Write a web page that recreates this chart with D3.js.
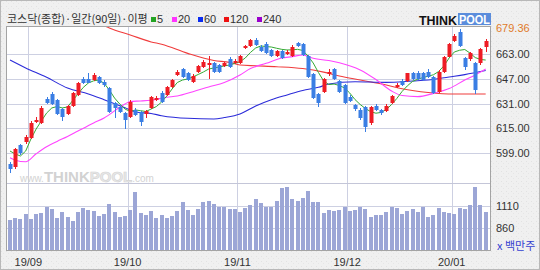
<!DOCTYPE html>
<html>
<head>
<meta charset="utf-8">
<script src="https://cdn.jsdelivr.net/npm/d3@7"></script>
<style>
  body { margin: 0; background: #fff; }
  svg text { font-family: "Liberation Sans", Arial, sans-serif; }
  .kr { font-family: "Noto Sans CJK KR", "Noto Sans", sans-serif; }
</style>
</head>
<body>
<div id="chart"></div>
<script>
// KOSDAQ composite, daily candles (index 0 = 2019-08-27 ... 91 = 2020-01-10)
var openP  = [592.0,590.1,604.3,606.4,608.8,619.1,618.5,634.0,637.2,633.3,
              627.5,624.3,629.5,636.5,646.9,646.9,646.2,648.2,645.1,641.1,
              631.4,629.0,624.9,622.4,626.9,625.6,624.3,628.2,633.3,637.8,
              636.5,641.7,649.5,653.3,650.7,644.9,651.4,654.6,656.6,657.2,
              655.9,655.3,659.8,657.0,657.2,666.9,668.2,672.0,667.7,669.5,
              665.6,661.7,664.9,663.4,661.7,669.9,669.5,661.7,650.1,637.2,
              638.5,650.1,653.3,645.8,643.0,635.5,630.1,626.9,628.8,618.3,
              629.5,626.9,626.4,631.2,641.5,645.6,645.8,650.5,650.5,650.5,
              651.6,648.0,638.7,651.6,661.3,671.6,677.4,660.2,659.6,657.0,
              657.0,667.7];
var highP  = [593.5,602.5,605.1,611.0,619.5,622.5,629.5,635.5,638.5,634.0,
              628.0,630.0,638.5,645.0,648.0,651.0,651.0,649.0,646.0,642.0,
              632.0,630.0,625.5,633.0,628.0,626.5,627.0,636.0,636.0,639.0,
              642.5,647.0,652.5,654.0,651.5,650.0,656.0,659.0,661.7,658.0,
              656.5,658.0,661.0,659.5,662.5,669.0,673.0,673.3,668.5,670.5,
              666.0,665.5,665.5,665.5,668.5,671.0,670.0,662.5,651.0,638.0,
              647.5,653.0,654.0,646.5,643.5,636.5,631.0,628.0,629.5,629.5,
              631.0,627.5,630.5,636.5,644.0,647.0,651.0,651.5,652.0,651.5,
              653.5,649.0,652.5,662.0,670.0,676.0,679.36,661.0,664.5,658.0,
              667.0,672.5];
var lowP   = [586.4,589.0,598.0,605.0,608.0,618.5,618.0,631.0,630.0,623.5,
              619.7,623.5,629.0,636.0,643.5,644.0,645.5,643.5,642.0,625.0,
              622.0,625.0,614.6,621.5,623.0,616.5,621.5,627.5,632.5,631.5,
              636.0,641.0,649.0,647.5,645.5,644.0,650.5,654.0,646.9,650.5,
              650.5,654.5,654.0,656.5,656.5,666.0,667.5,668.0,664.5,663.0,
              661.0,661.0,659.5,662.5,661.0,667.5,661.5,647.5,633.8,628.8,
              638.0,649.0,646.0,638.0,631.0,632.0,626.5,620.5,612.9,617.5,
              626.0,623.5,625.5,630.5,641.0,642.5,645.0,646.0,646.0,645.5,
              647.5,637.0,638.0,651.0,660.8,670.5,667.5,652.7,658.5,637.2,
              656.0,664.5];
var closeP = [588.8,601.7,599.1,609.6,618.5,620.4,628.4,631.6,630.7,624.3,
              622.4,629.5,637.8,644.3,644.3,644.3,649.5,644.3,643.0,625.6,
              628.2,625.8,620.4,632.0,623.6,619.1,626.2,635.3,634.6,632.0,
              641.7,646.2,651.4,648.2,646.2,648.8,655.3,657.8,657.4,651.4,
              651.4,657.2,654.6,658.7,661.7,668.2,672.0,668.8,665.1,663.6,
              661.7,664.9,660.4,664.5,667.7,668.2,662.4,648.2,634.6,631.4,
              646.9,651.6,646.9,638.7,631.6,632.9,627.3,621.5,616.1,628.8,
              626.9,624.7,629.5,635.9,643.0,643.0,650.5,646.7,646.7,646.2,
              648.4,637.6,651.6,661.3,669.5,674.6,668.2,654.8,663.5,639.8,
              666.0,671.6];
// volume, million shares
var volume = [951,977,966,1019,966,1019,1030,1102,1076,977,
              1045,988,939,1038,1087,1064,1050,1000,1019,1133,
              1045,988,1000,1064,1265,1027,1011,1053,977,1008,
              970,996,1053,1155,1064,1011,1076,1155,1167,1133,
              1102,1102,1076,1076,1038,1087,1125,1186,1141,1102,
              1095,1170,1311,1322,1186,1170,1204,1284,1155,1155,
              1034,1064,1056,1064,1102,1053,1064,1102,1076,988,
              1011,1011,1038,1102,1087,1019,1056,1076,1038,1102,
              988,1011,1087,1038,1027,1019,1087,1076,1121,1329,
              1121,1045];
// moving averages
var ma5 = [600.4,598.5,597.2,600.4,608.2,614.6,619.8,624.9,628.2,629.1,
           628.2,628.8,633.0,637.2,641.4,644.3,645.7,646.2,644.1,639.8,
           634.6,630.7,627.5,625.9,626.9,626.4,625.9,627.5,629.1,632.0,
           635.9,640.4,644.6,646.2,646.9,648.2,649.8,651.4,653.3,654.0,
           654.6,655.3,655.9,656.9,658.0,660.4,664.0,666.9,668.2,667.8,
           667.5,666.7,666.0,665.6,665.7,666.0,665.3,661.7,657.2,651.1,
           645.6,643.3,643.6,642.7,641.1,637.8,633.6,630.4,627.8,625.8,
           624.8,625.3,627.2,630.4,634.3,638.8,642.4,645.3,646.7,647.8,
           648.7,649.6,651.7,655.3,660.4,664.3,665.4,665.9,663.6,660.7,
           659.5,659.1];
var ma20 = [[0,596.0],[1,594.5],[3,593.5],[5,598.6],[7,603.2],[9,606.6],[11,609.8],
            [13,613.3],[16,618.5],[18,621.7],[21,628.6],[22,630.7],[23,632.4],
            [25,632.7],[27,633.2],[30,635.1],[32,635.9],[35,638.7],[38,641.7],
            [41,644.6],[44,649.5],[46,653.6],[49,657.0],[52,660.4],[54,661.3],
            [56,662.4],[58,660.2],[61,658.8],[63,657.4],[67,652.7],[70,646.5],
            [73,639.1],[75,636.2],[78,635.5],[81,637.6],[84,640.7],[87,646.2],
            [89,649.5],[91,653.3]];
var ma60 = [[0,659.1],[3,654.0],[7,648.0],[11,641.0],[15,637.2],[18,633.5],
            [22,628.3],[24,625.6],[27,624.6],[29,623.2],[34,621.5],[39,621.1],
            [41,622.0],[44,624.3],[47,629.5],[50,633.5],[53,636.6],[56,639.5],
            [59,641.5],[61,643.6],[66,645.1],[72,644.7],[77,645.6],[80,646.2],
            [84,648.2],[87,649.7],[91,652.3]];
var ma120 = [[18,681.3],[19,679.8],[23,675.3],[27,670.8],[29,669.3],[34,663.4],
             [39,658.8],[42,657.6],[44,655.9],[47,655.4],[51,654.8],[56,653.6],
             [60,651.3],[63,648.8],[67,646.2],[72,643.0],[75,640.6],[80,638.2],
             [85,637.2],[91,637.2]];

var monthStart = [4, 23, 44, 65, 85];
var monthLabels = ["19/09", "19/10", "19/11", "19/12", "20/01"];
var priceTicks = [599, 615, 631, 647, 663];
var priceMax = 679.36;
var volTicks = [860, 1110];

var legendNames = ["5", "20", "60", "120", "240"];
var legendColors = ["#22a322", "#ff33ff", "#0a2cf0", "#ee1111", "#9900cc"];

// layout
var svgWidth = 540, svgHeight = 270;
var plot = {left: 7, right: 490, top: 27, split: 183, bottom: 250};
var red = "#ee1c24", blue = "#3a7ee4";

var svg = d3.select("#chart").append("svg")
  .attr("width", svgWidth)
  .attr("height", svgHeight);

// speckled grey background
var defs = svg.append("defs");
var pat = defs.append("pattern").attr("id", "speck")
  .attr("width", 5).attr("height", 5).attr("patternUnits", "userSpaceOnUse");
pat.append("rect").attr("width", 5).attr("height", 5).attr("fill", "#f0f0f0");
pat.append("rect").attr("x", 1).attr("y", 1).attr("width", 1).attr("height", 1).attr("fill", "#e2e2e2");
pat.append("rect").attr("x", 3).attr("y", 3).attr("width", 1).attr("height", 1).attr("fill", "#e6e6e6");

defs.append("clipPath").attr("id", "priceClip").append("rect")
  .attr("x", plot.left).attr("y", plot.top)
  .attr("width", plot.right - plot.left).attr("height", plot.split - plot.top);

svg.append("rect").attr("width", svgWidth).attr("height", svgHeight).attr("fill", "url(#speck)");
svg.append("rect").attr("x", 0.5).attr("y", 0.5).attr("width", svgWidth - 1).attr("height", svgHeight - 1)
  .attr("fill", "none").attr("stroke", "#b8b8b8");
svg.append("rect").attr("x", plot.left).attr("y", plot.top)
  .attr("width", plot.right - plot.left).attr("height", plot.bottom - plot.top)
  .attr("fill", "#fff");

// scales
var n = closeP.length;
var x = d3.scaleBand().domain(d3.range(n)).range([7.4, 488.3]);
var cx = function(i) { return Math.round(x(i) + x.bandwidth() / 2); };
var yP = d3.scaleLinear().domain([579.77, 680.42]).range([plot.split, plot.top]);
var yV = d3.scaleLinear().domain([610, 1371]).range([plot.bottom, plot.split]);

var grid = "#cdd0e2";

// gridlines
svg.append("g").selectAll("line").data(priceTicks).enter().append("line")
  .attr("x1", plot.left).attr("x2", plot.right)
  .attr("y1", d => Math.round(yP(d)) + 0.5).attr("y2", d => Math.round(yP(d)) + 0.5)
  .attr("stroke", grid);
svg.append("g").selectAll("line").data(volTicks).enter().append("line")
  .attr("x1", plot.left).attr("x2", plot.right)
  .attr("y1", d => Math.round(yV(d)) + 0.5).attr("y2", d => Math.round(yV(d)) + 0.5)
  .attr("stroke", grid);
svg.append("g").selectAll("line").data(monthStart).enter().append("line")
  .attr("x1", d => Math.round(x(d)) + 0.5).attr("x2", d => Math.round(x(d)) + 0.5)
  .attr("y1", plot.top).attr("y2", plot.bottom)
  .attr("stroke", grid);

// watermark
var wm = svg.append("text").attr("x", 20).attr("y", 182).attr("fill", "#d2d2d2");
wm.append("tspan").attr("font-size", 10).text("www.");
wm.append("tspan").attr("font-size", 15).attr("font-weight", "bold").text("THINK");
wm.append("tspan").attr("font-size", 15).attr("font-weight", "bold").attr("fill", "#e8e8e8")
  .attr("stroke", "#d4d4d4").attr("stroke-width", 0.6).text("POOL");
wm.append("tspan").attr("font-size", 10).text(".com");

// volume bars
svg.append("g").selectAll("rect").data(volume).enter().append("rect")
  .attr("x", (d, i) => cx(i) - 2)
  .attr("width", 4)
  .attr("y", d => Math.round(yV(d)))
  .attr("height", d => plot.bottom - Math.round(yV(d)))
  .attr("fill", "#9ca6d6");

// moving averages
var chart = svg.append("g").attr("clip-path", "url(#priceClip)");
var lineIdx = d3.line().x(d => x(d[0]) + x.bandwidth() / 2).y(d => yP(d[1])).curve(d3.curveMonotoneX);

chart.append("path").datum(ma120).attr("d", lineIdx)
  .attr("fill", "none").attr("stroke", "#f03c3c").attr("stroke-width", 1.1);
chart.append("path").datum(ma60).attr("d", lineIdx)
  .attr("fill", "none").attr("stroke", "#2b2bd9").attr("stroke-width", 1.1);
chart.append("path").datum(ma20).attr("d", lineIdx)
  .attr("fill", "none").attr("stroke", "#ff44ff").attr("stroke-width", 1.1);
chart.append("path").datum(ma5.map((v, i) => [i, v]))
  .attr("d", d3.line().x(d => x(d[0]) + x.bandwidth() / 2).y(d => yP(d[1])))
  .attr("fill", "none").attr("stroke", "#33aa33").attr("stroke-width", 1);

// candles
var candles = chart.selectAll(".candle").data(d3.range(n)).enter().append("g");
candles.append("line")
  .attr("x1", i => cx(i) + 0.5).attr("x2", i => cx(i) + 0.5)
  .attr("y1", i => Math.round(yP(highP[i]))).attr("y2", i => Math.round(yP(lowP[i])))
  .attr("stroke", i => closeP[i] >= openP[i] ? red : blue);
candles.append("rect")
  .attr("x", i => cx(i) - 1.5)
  .attr("width", 4)
  .attr("y", i => Math.round(yP(Math.max(openP[i], closeP[i]))))
  .attr("height", i => Math.max(2, Math.round(yP(Math.min(openP[i], closeP[i]))) - Math.round(yP(Math.max(openP[i], closeP[i])))))
  .attr("fill", i => closeP[i] >= openP[i] ? red : blue);

// frame
svg.append("rect").attr("x", plot.left - 0.5).attr("y", plot.top - 0.5)
  .attr("width", plot.right - plot.left + 1).attr("height", plot.bottom - plot.top + 1)
  .attr("fill", "none").attr("stroke", "#a4a4a4");
svg.append("line").attr("x1", plot.left).attr("x2", plot.right)
  .attr("y1", plot.split + 0.5).attr("y2", plot.split + 0.5).attr("stroke", "#c4c6d8");

// axes
var priceAxis = d3.axisRight(yP).tickValues(priceTicks).tickSize(0).tickPadding(6)
  .tickFormat(d3.format(".2f"));
var pa = svg.append("g").attr("transform", `translate(${plot.right},0)`).call(priceAxis);
pa.select(".domain").remove();
pa.selectAll("text").attr("font-size", 11).attr("fill", "#333").attr("font-family", "Liberation Sans");

svg.append("text").attr("x", plot.right + 6).attr("y", yP(priceMax)).attr("dy", "0.32em")
  .attr("font-size", 11).attr("fill", "#e07a2a").text(d3.format(".2f")(priceMax));

var volAxis = d3.axisRight(yV).tickValues(volTicks).tickSize(0).tickPadding(6)
  .tickFormat(d3.format("d"));
var va = svg.append("g").attr("transform", `translate(${plot.right},0)`).call(volAxis);
va.select(".domain").remove();
va.selectAll("text").attr("font-size", 11).attr("fill", "#333").attr("font-family", "Liberation Sans");

svg.append("text").attr("class", "kr").attr("x", plot.right + 7).attr("y", 250)
  .attr("font-size", 11).attr("fill", "#3340d0").text("x 백만주");

var dateAxis = d3.axisBottom(x).tickValues(monthStart).tickSize(0).tickPadding(8)
  .tickFormat(d => monthLabels[monthStart.indexOf(d)]);
var da = svg.append("g").attr("transform", `translate(${-x.bandwidth() / 2},${plot.bottom})`).call(dateAxis);
da.select(".domain").remove();
da.selectAll("text").attr("font-size", 11).attr("fill", "#333").attr("font-family", "Liberation Sans");

// title + legend
svg.append("text").attr("class", "kr").attr("x", 7).attr("y", 23)
  .attr("font-size", 11).attr("fill", "#333").text("코스닥(종합)·일간(90일)·이평");

var legendX = [151, 172, 198, 224, 257];
var lg = svg.append("g").selectAll("g").data(legendNames).enter().append("g")
  .attr("transform", (d, i) => `translate(${legendX[i]},0)`);
lg.append("rect").attr("x", 0).attr("y", 17).attr("width", 5).attr("height", 5)
  .attr("fill", (d, i) => legendColors[i]);
lg.append("text").attr("x", 6).attr("y", 23).attr("font-size", 11).attr("fill", "#333").text(d => d);

// logo
svg.append("text").attr("x", 419).attr("y", 25).attr("font-size", 13).attr("font-weight", "bold")
  .attr("fill", "#111").attr("textLength", 38).attr("lengthAdjust", "spacingAndGlyphs").text("THINK");
svg.append("rect").attr("x", 458).attr("y", 13).attr("width", 33).attr("height", 12).attr("fill", "#5b8ddc");
svg.append("text").attr("x", 459).attr("y", 24).attr("font-size", 12).attr("font-weight", "bold")
  .attr("fill", "#fff").attr("textLength", 31).attr("lengthAdjust", "spacingAndGlyphs").text("POOL");
</script>
</body>
</html>
